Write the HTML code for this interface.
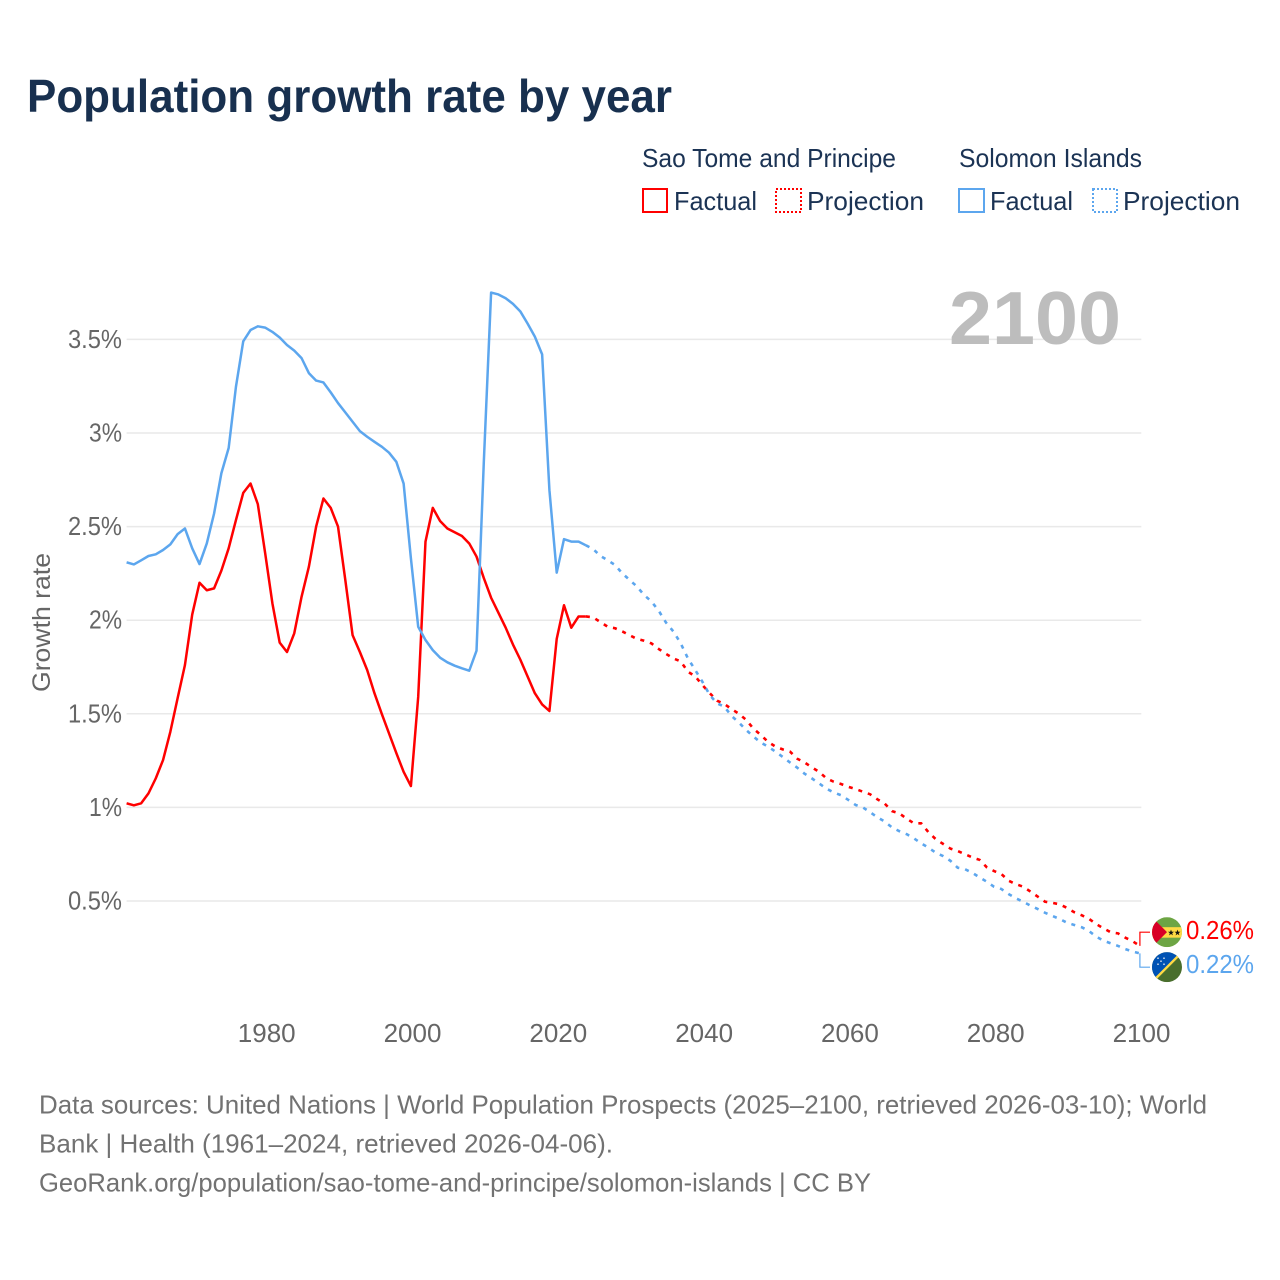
<!DOCTYPE html>
<html lang="en">
<head>
<meta charset="utf-8">
<title>Population growth rate by year</title>
<style>
html,body{margin:0;padding:0;background:#fff;width:1280px;height:1280px;overflow:hidden}
svg{display:block}
text{font-family:"Liberation Sans",sans-serif}
</style>
</head>
<body>
<svg id="chart" xmlns="http://www.w3.org/2000/svg" width="1280" height="1280" viewBox="0 0 1280 1280">
  <rect x="0" y="0" width="1280" height="1280" fill="#fff"/>
  <text x="27" y="112" font-size="46" font-weight="700" fill="#18304f" textLength="645" lengthAdjust="spacingAndGlyphs">Population growth rate by year</text>

  <g font-size="26" fill="#1b3354">
    <text x="642" y="167" textLength="254" lengthAdjust="spacingAndGlyphs">Sao Tome and Principe</text>
    <text x="959" y="167" textLength="183" lengthAdjust="spacingAndGlyphs">Solomon Islands</text>
    <rect x="643" y="189" width="24" height="23" fill="none" stroke="#ff0000" stroke-width="2"/>
    <text x="674" y="210" textLength="83" lengthAdjust="spacingAndGlyphs">Factual</text>
    <rect x="776" y="189" width="25" height="23" fill="none" stroke="#ff0000" stroke-width="2" stroke-dasharray="2 2"/>
    <text x="807" y="210" textLength="117" lengthAdjust="spacingAndGlyphs">Projection</text>
    <rect x="959" y="189" width="25" height="23" fill="none" stroke="#5ca6ee" stroke-width="2"/>
    <text x="990" y="210" textLength="83" lengthAdjust="spacingAndGlyphs">Factual</text>
    <rect x="1093" y="189" width="24" height="23" fill="none" stroke="#5ca6ee" stroke-width="2" stroke-dasharray="2 2"/>
    <text x="1123" y="210" textLength="117" lengthAdjust="spacingAndGlyphs">Projection</text>
  </g>

  <g id="grid"></g>
  <text x="949" y="344" font-size="75" font-weight="700" fill="#bdbdbd" textLength="172" lengthAdjust="spacingAndGlyphs">2100</text>
  <text transform="translate(50 622.5) rotate(-90)" text-anchor="middle" font-size="25" fill="#666" textLength="139" lengthAdjust="spacingAndGlyphs">Growth rate</text>
  <g id="yticks"></g>
  <g id="xticks"></g>
  <g id="series"></g>
  <g id="endmarks"></g>

  <defs>
    <clipPath id="clip-stp"><circle cx="0" cy="0" r="15"/></clipPath>
    <clipPath id="clip-slb"><circle cx="0" cy="0" r="15"/></clipPath>
  </defs>
  <g id="flag-stp" clip-path="url(#clip-stp)">
    <rect x="-15" y="-15" width="30" height="30" fill="#6da544"/>
    <rect x="-15" y="-5" width="30" height="10.5" fill="#ffda44"/>
    <polygon points="-15,-15 0,0 -15,15" fill="#d80027"/>
    <polygon points="4,-2.6 4.8,-0.4 7,-0.4 5.2,1 5.9,3.2 4,1.8 2.1,3.2 2.8,1 1,-0.4 3.2,-0.4" fill="#111"/>
    <polygon points="10.5,-2.6 11.3,-0.4 13.5,-0.4 11.7,1 12.4,3.2 10.5,1.8 8.6,3.2 9.3,1 7.5,-0.4 9.7,-0.4" fill="#111"/>
  </g>
  <g id="flag-slb" clip-path="url(#clip-slb)">
    <rect x="-15" y="-15" width="30" height="30" fill="#496e2d"/>
    <polygon points="-15,-15 15,-15 -15,15" fill="#0052b4"/>
    <line x1="-15" y1="15" x2="15" y2="-15" stroke="#ffda44" stroke-width="2.4"/>
    <g fill="#f0f0f0">
      <circle cx="-9" cy="-3" r="0.8"/>
      <circle cx="-3" cy="-3" r="0.8"/>
      <circle cx="-6" cy="-6" r="0.8"/>
      <circle cx="-9" cy="-9" r="0.8"/>
      <circle cx="-3" cy="-9" r="0.8"/>
    </g>
  </g>

  <g font-size="26" fill="#727272">
    <text x="39" y="1113.5" textLength="1168" lengthAdjust="spacingAndGlyphs">Data sources: United Nations | World Population Prospects (2025–2100, retrieved 2026-03-10); World</text>
    <text x="39" y="1152.5" textLength="574" lengthAdjust="spacingAndGlyphs">Bank | Health (1961–2024, retrieved 2026-04-06).</text>
    <text x="39" y="1191.5" textLength="832" lengthAdjust="spacingAndGlyphs">GeoRank.org/population/sao-tome-and-principe/solomon-islands | CC BY</text>
  </g>
</svg>

<script>
const factualYears = [1961,1962,1963,1964,1965,1966,1967,1968,1969,1970,
  1971,1972,1973,1974,1975,1976,1977,1978,1979,1980,
  1981,1982,1983,1984,1985,1986,1987,1988,1989,1990,
  1991,1992,1993,1994,1995,1996,1997,1998,1999,2000,
  2001,2002,2003,2004,2005,2006,2007,2008,2009,2010,
  2011,2012,2013,2014,2015,2016,2017,2018,2019,2020,
  2021,2022,2023,2024];
const projectionYears = [2024,
  2025,2026,2027,2028,2029,2030,2031,2032,2033,2034,
  2035,2036,2037,2038,2039,2040,2041,2042,2043,2044,
  2045,2046,2047,2048,2049,2050,2051,2052,2053,2054,
  2055,2056,2057,2058,2059,2060,2061,2062,2063,2064,
  2065,2066,2067,2068,2069,2070,2071,2072,2073,2074,
  2075,2076,2077,2078,2079,2080,2081,2082,2083,2084,
  2085,2086,2087,2088,2089,2090,2091,2092,2093,2094,
  2095,2096,2097,2098,2099,2100];
const saoTomeFactual = [1.022,1.011,1.022,1.075,1.155,1.253,1.404,1.584,1.76,2.03,
  2.2,2.16,2.17,2.265,2.384,2.535,2.68,2.73,2.62,2.36,
  2.09,1.88,1.83,1.93,2.125,2.285,2.5,2.65,2.6,2.5,
  2.215,1.92,1.83,1.734,1.61,1.5,1.395,1.29,1.19,1.114,
  1.59,2.42,2.6,2.53,2.49,2.47,2.45,2.41,2.34,2.225,
  2.12,2.04,1.96,1.87,1.79,1.7,1.61,1.55,1.515,1.9,
  2.08,1.96,2.02,2.02];
const saoTomeProjection = [2.02,
  2.015,1.99,1.965,1.957,1.94,1.92,1.9,1.89,1.876,1.846,
  1.82,1.796,1.78,1.725,1.7,1.653,1.61,1.57,1.552,1.525,
  1.5,1.467,1.42,1.387,1.35,1.325,1.31,1.298,1.26,1.24,
  1.214,1.19,1.155,1.137,1.125,1.11,1.098,1.084,1.07,1.043,
  1.02,0.98,0.968,0.94,0.915,0.915,0.867,0.83,0.805,0.78,
  0.767,0.75,0.733,0.72,0.68,0.66,0.644,0.608,0.59,0.576,
  0.55,0.523,0.496,0.49,0.482,0.463,0.44,0.424,0.405,0.377,
  0.354,0.333,0.327,0.304,0.285,0.26];
const solomonFactual = [2.309,2.298,2.32,2.343,2.352,2.375,2.405,2.46,2.49,2.384,
  2.3,2.41,2.57,2.785,2.92,3.247,3.49,3.55,3.57,3.563,
  3.54,3.51,3.47,3.44,3.4,3.32,3.28,3.27,3.217,3.16,
  3.11,3.06,3.01,2.98,2.953,2.927,2.895,2.846,2.73,2.33,
  1.965,1.894,1.84,1.8,1.775,1.757,1.743,1.73,1.837,2.845,
  3.75,3.74,3.72,3.69,3.65,3.585,3.515,3.42,2.695,2.254,
  2.433,2.42,2.42,2.4];
const solomonProjection = [2.4,
  2.38,2.343,2.32,2.295,2.25,2.215,2.18,2.134,2.1,2.05,
  1.987,1.94,1.877,1.796,1.734,1.67,1.6,1.556,1.538,1.488,
  1.453,1.413,1.378,1.346,1.325,1.298,1.27,1.24,1.212,1.18,
  1.155,1.128,1.1,1.08,1.065,1.04,1.013,1,0.974,0.947,
  0.924,0.893,0.873,0.857,0.835,0.808,0.785,0.758,0.74,0.715,
  0.678,0.67,0.651,0.626,0.603,0.576,0.564,0.537,0.514,0.496,
  0.475,0.457,0.437,0.42,0.404,0.384,0.372,0.36,0.34,0.31,
  0.288,0.274,0.26,0.243,0.23,0.22];
const yTickValues = [0.5,1,1.5,2,2.5,3,3.5];
const yTickLabels = ['0.5%','1%','1.5%','2%','2.5%','3%','3.5%'];
const xTickValues = [1980,2000,2020,2040,2060,2080,2100];
const xTickLabels = ['1980','2000','2020','2040','2060','2080','2100'];

const SVG_NS = 'http://www.w3.org/2000/svg';
const RED = '#ff0000';
const BLUE = '#5ca6ee';

function xScale(year) { return 126.6 + (year - 1961) * 7.29; }
function yScale(value) { return 994.6 - value * 187.2; }

function pointsFor(years, values) {
  return values.map(function (v, i) {
    return xScale(years[i]).toFixed(2) + ',' + yScale(v).toFixed(2);
  }).join(' ');
}

function makeLine(years, values, color, dash) {
  const el = document.createElementNS(SVG_NS, 'polyline');
  el.setAttribute('points', pointsFor(years, values));
  el.setAttribute('fill', 'none');
  el.setAttribute('stroke', color);
  el.setAttribute('stroke-width', dash ? '2.6' : '2.5');
  el.setAttribute('stroke-linejoin', 'round');
  if (dash) el.setAttribute('stroke-dasharray', dash);
  return el;
}

const gridGroup = document.getElementById('grid');
const yTickGroup = document.getElementById('yticks');
yTickValues.forEach(function (v, i) {
  const line = document.createElementNS(SVG_NS, 'line');
  
  
  line.setAttribute('x1', xScale(1961));
  line.setAttribute('x2', xScale(2100) + 1.4);
  line.setAttribute('y1', yScale(v));
  line.setAttribute('y2', yScale(v));
  line.setAttribute('stroke', '#e9e9e9');
  line.setAttribute('stroke-width', '1.5');
  gridGroup.appendChild(line);

  const label = document.createElementNS(SVG_NS, 'text');
  
  
  label.setAttribute('x', '122');
  label.setAttribute('y', yScale(v) + 8.5);
  label.setAttribute('text-anchor', 'end');
  label.setAttribute('font-size', '26');
  label.setAttribute('fill', '#666');
  label.setAttribute('textLength', yTickLabels[i].length > 2 ? '54' : '33');
  label.setAttribute('lengthAdjust', 'spacingAndGlyphs');
  label.textContent = yTickLabels[i];
  yTickGroup.appendChild(label);
});

const xTickGroup = document.getElementById('xticks');
xTickValues.forEach(function (year, i) {
  const label = document.createElementNS(SVG_NS, 'text');
  
  
  label.setAttribute('x', xScale(year) + 1.6);
  label.setAttribute('y', '1042');
  label.setAttribute('text-anchor', 'middle');
  label.setAttribute('font-size', '26');
  label.setAttribute('fill', '#666');
  label.textContent = xTickLabels[i];
  xTickGroup.appendChild(label);
});

const seriesGroup = document.getElementById('series');

const redFactualLine = makeLine(factualYears, saoTomeFactual, RED);


seriesGroup.appendChild(redFactualLine);

const redProjectionLine = makeLine(projectionYears, saoTomeProjection, RED, '4 6');


seriesGroup.appendChild(redProjectionLine);

const blueFactualLine = makeLine(factualYears, solomonFactual, BLUE);


seriesGroup.appendChild(blueFactualLine);

const blueProjectionLine = makeLine(projectionYears, solomonProjection, BLUE, '4 6');


seriesGroup.appendChild(blueProjectionLine);

/* End-of-line labels: slots sit either side of the midpoint of the two last values */
const endGroup = document.getElementById('endmarks');
const lastRed = saoTomeProjection[saoTomeProjection.length - 1];
const lastBlue = solomonProjection[solomonProjection.length - 1];
const endX = xScale(2100);
const redEndY = yScale(lastRed);
const blueEndY = yScale(lastBlue);
const slotMid = (redEndY + blueEndY) / 2;
const redSlotY = slotMid - 17.5;
const blueSlotY = slotMid + 17.5;

const redConnector = document.createElementNS(SVG_NS, 'polyline');


redConnector.setAttribute('points', endX + ',' + redEndY + ' ' + endX + ',' + redSlotY + ' 1150,' + redSlotY);
redConnector.setAttribute('fill', 'none');
redConnector.setAttribute('stroke', RED);
redConnector.setAttribute('stroke-width', '1.2');
endGroup.appendChild(redConnector);

const blueConnector = document.createElementNS(SVG_NS, 'polyline');


blueConnector.setAttribute('points', endX + ',' + blueEndY + ' ' + endX + ',' + blueSlotY + ' 1150,' + blueSlotY);
blueConnector.setAttribute('fill', 'none');
blueConnector.setAttribute('stroke', BLUE);
blueConnector.setAttribute('stroke-width', '1.2');
endGroup.appendChild(blueConnector);

const redLabel = document.createElementNS(SVG_NS, 'text');


redLabel.setAttribute('x', '1186');
redLabel.setAttribute('y', redSlotY + 7);
redLabel.setAttribute('font-size', '26');
redLabel.setAttribute('fill', RED);
redLabel.setAttribute('textLength', '68');
redLabel.setAttribute('lengthAdjust', 'spacingAndGlyphs');
redLabel.textContent = lastRed.toFixed(2) + '%';
endGroup.appendChild(redLabel);

const blueLabel = document.createElementNS(SVG_NS, 'text');


blueLabel.setAttribute('x', '1186');
blueLabel.setAttribute('y', blueSlotY + 6);
blueLabel.setAttribute('font-size', '26');
blueLabel.setAttribute('fill', BLUE);
blueLabel.setAttribute('textLength', '68');
blueLabel.setAttribute('lengthAdjust', 'spacingAndGlyphs');
blueLabel.textContent = lastBlue.toFixed(2) + '%';
endGroup.appendChild(blueLabel);

document.getElementById('flag-stp').setAttribute('transform', 'translate(1167 ' + redSlotY + ')');
document.getElementById('flag-slb').setAttribute('transform', 'translate(1167 ' + blueSlotY + ')');
</script>
</body>
</html>
